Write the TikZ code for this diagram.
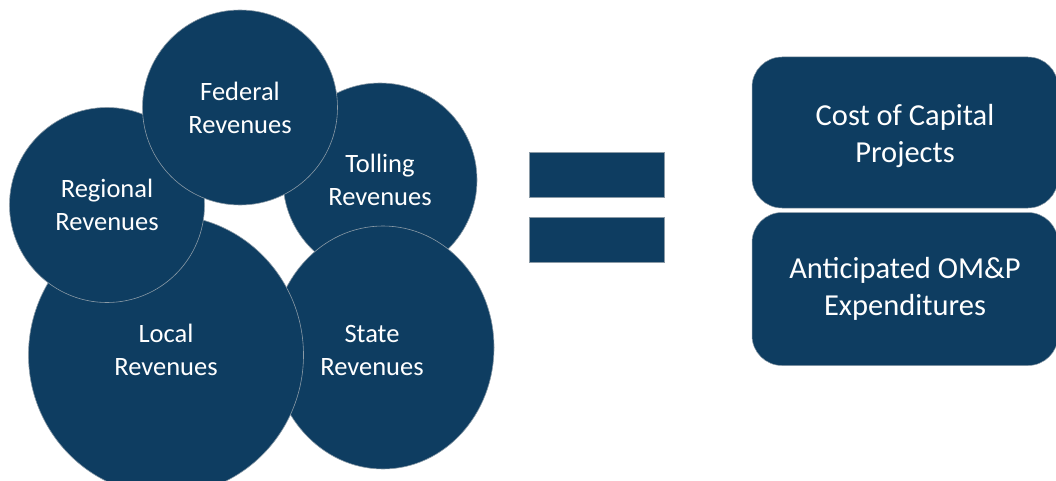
\documentclass[tikz,border=0pt]{standalone}
\usepackage{fontspec}
\setmainfont{Carlito}
\usepackage{tikz}
\usetikzlibrary{positioning,shapes.geometric}
\definecolor{fundNavy}{HTML}{0E3D61}
\definecolor{fundEdge}{HTML}{8A9AA6}
\newcommand{\revfont}{\fontsize{26.5}{33}\selectfont}
\newcommand{\costfont}{\fontsize{30.5}{37}\selectfont}

\begin{document}
\begin{tikzpicture}[x=1pt,y=-1pt,
    fund/.style={circle,fill=fundNavy,draw=fundEdge,line width=0.6pt,inner sep=0pt,
      text=white,align=center,font=\revfont},
    fundtxt/.style={text=white,align=center,font=\revfont},
    eqbar/.style={rectangle,fill=fundNavy,draw=fundEdge,line width=0.5pt,
      minimum width=135pt,minimum height=45pt,inner sep=0pt},
    costbox/.style={rectangle,rounded corners=30pt,fill=fundNavy,draw=fundEdge,line width=0.5pt,
      minimum width=306pt,inner sep=0pt,text=white,align=center,font=\costfont}]
  \useasboundingbox (0,0) rectangle (1056,481);

  % revenue circles, back to front
  \node[fund,minimum size=194pt] (tolling) at (380,180) {Tolling\\Revenues};
  \node[fund,ellipse,minimum width=222pt,minimum height=243pt] (state) at (383,347.5) {};
  \node[fundtxt] (statetxt) at ([xshift=-11pt,yshift=-3pt]state.center) {State\\Revenues};
  \node[fund,ellipse,minimum width=275pt,minimum height=280pt] (local) at (166,355) {};
  \node[fundtxt] (localtxt) at ([yshift=5pt]local.center) {Local\\Revenues};
  \node[fund,minimum size=195pt] (regional) at (107,205) {Regional\\Revenues};
  \node[fund,minimum size=195pt] (federal) at (240,107.5) {Federal\\Revenues};

  % equals sign
  \node[eqbar] (eqtop) at (596.5,174.5) {};
  \node[eqbar,below=20pt of eqtop] (eqbot) {};

  % cost side
  \node[costbox,minimum height=151pt] (capital) at (905,132.5) {};
  \node[text=white,align=center,font=\costfont] (capitaltxt) at ([yshift=-4pt]capital.center) {Cost of Capital\\Projects};
  \node[costbox,minimum height=153pt,below=4pt of capital] (omp) {Anticipated OM\&P\\Expenditures};
\end{tikzpicture}
\end{document}
